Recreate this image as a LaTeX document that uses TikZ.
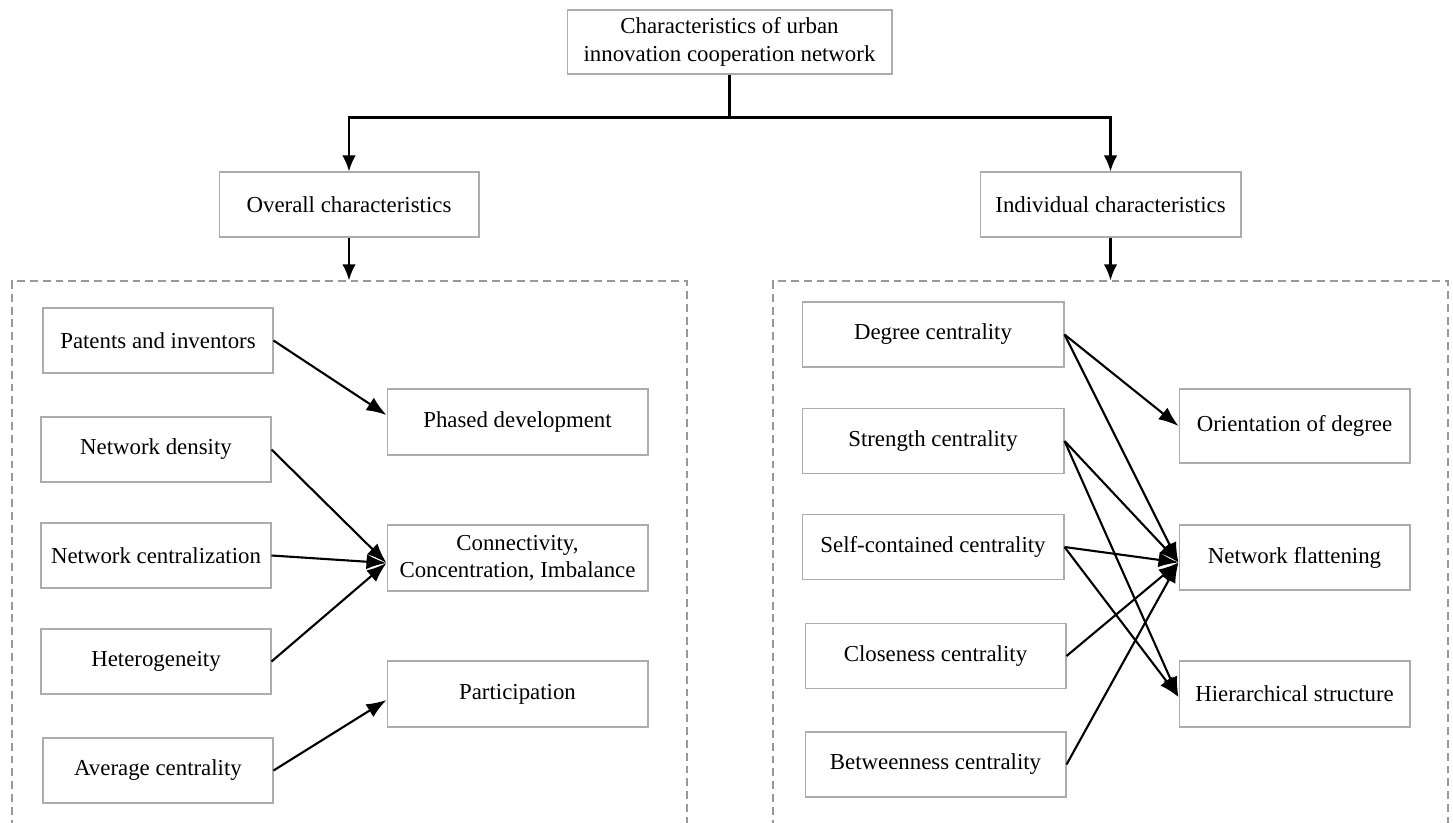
\documentclass[tikz,border=0pt]{standalone}
\usepackage{fontspec}
\setmainfont{Liberation Serif}
\usetikzlibrary{arrows.meta, positioning, calc}

\begin{document}
\begin{tikzpicture}[x=0.02cm, y=-0.02cm, >={Latex[length=4mm,width=3mm]},
    box/.style={draw=gray!65, line width=0.6pt, align=center, inner sep=2pt, font=\fontsize{13}{15.5}\selectfont},
    srcbox/.style={box, minimum width=4.6cm, minimum height=1.3cm},
    tgtbox/.style={box, minimum width=5.22cm, minimum height=1.32cm},
    frame/.style={draw=gray!80, line width=0.8pt, dash pattern=on 4.5pt off 2.8pt, minimum width=13.5cm, minimum height=12cm},
    link/.style={->, line width=1.2pt},
    treelink/.style={-{Latex[length=3.2mm,width=2.7mm]}, line width=1.2pt}]
    \useasboundingbox (0,0) rectangle (1453,822);
    \clip (0,0) rectangle (1453,822);

    % Nodos principales
    \node (top) [box, minimum width=6.5cm, minimum height=1.28cm] at (729.5,42) {Characteristics of urban\\innovation cooperation network};
    \node (overall) [box, minimum width=5.2cm, minimum height=1.3cm] at (349,204.5) {Overall characteristics};
    \node (indiv) [box, minimum width=5.22cm, minimum height=1.3cm] at (1110.5,204.5) {Individual characteristics};

    % Marcos punteados
    \node (leftframe) [frame] at (349.5,581) {};
    \node (rightframe) [frame] at (1110.5,581) {};

    % Arbol superior
    \draw[line width=1.2pt] (top.south) -- ++(0,43) coordinate (split);
    \draw[treelink] (split) -| (overall);
    \draw[treelink] (split) -| (indiv);
    \draw[treelink] (overall) -- (overall |- leftframe.north);
    \draw[treelink] (indiv) -- (indiv |- rightframe.north);

    % Caracteristicas globales
    \node (patents) [srcbox] at (158,340.5) {Patents and inventors};
    \node (density) [srcbox] at (156,449.5) {Network density};
    \node (central) [srcbox] at (156,555.5) {Network centralization};
    \node (hetero) [srcbox] at (156,661.5) {Heterogeneity};
    \node (avgcent) [srcbox] at (158,770.5) {Average centrality};

    \node (phased) [tgtbox] at (517.5,422) {Phased development};
    \node (connect) [tgtbox] at (517.5,558) {Connectivity,\\Concentration, Imbalance};
    \node (particip) [tgtbox] at (517.5,694) {Participation};

    \draw[link] (patents.east) -- ([yshift=0.14cm]phased.west);
    \draw[link] (density.east) -- ([yshift=-0.1cm]connect.west);
    \draw[link] (central.east) -- ([yshift=-0.1cm]connect.west);
    \draw[link] (hetero.east) -- ([yshift=-0.1cm]connect.west);
    \draw[link] (avgcent.east) -- ([yshift=-0.12cm]particip.west);

    % Caracteristicas individuales
    \node (degree) [box, minimum width=5.24cm, minimum height=1.3cm] at (933,334.5) {Degree centrality};
    \node (strength) [box, minimum width=5.24cm, minimum height=1.3cm] at (933,441) {Strength centrality};
    \node (selfcon) [box, minimum width=5.24cm, minimum height=1.3cm] at (933,547) {Self-contained centrality};
    \node (close) [box, minimum width=5.22cm, minimum height=1.3cm] at (935.5,656) {Closeness centrality};
    \node (between) [box, minimum width=5.22cm, minimum height=1.3cm] at (935.5,764.5) {Betweenness centrality};

    \node (orient) [box, minimum width=4.62cm, minimum height=1.48cm] at (1294.5,426) {Orientation of degree};
    \node (flat) [box, minimum width=4.62cm, minimum height=1.3cm] at (1294.5,557.5) {Network flattening};
    \node (hier) [box, minimum width=4.62cm, minimum height=1.32cm] at (1294.5,694) {Hierarchical structure};

    \draw[link] (degree.east) -- (orient.west);
    \draw[link] (degree.east) -- ([yshift=-0.1cm]flat.west);
    \draw[link] (strength.east) -- ([yshift=-0.1cm]flat.west);
    \draw[link] (strength.east) -- ([yshift=-0.06cm]hier.west);
    \draw[link] (selfcon.east) -- ([yshift=-0.1cm]flat.west);
    \draw[link] (selfcon.east) -- ([yshift=-0.06cm]hier.west);
    \draw[link] (close.east) -- ([yshift=-0.1cm]flat.west);
    \draw[link] (between.east) -- ([yshift=-0.1cm]flat.west);
\end{tikzpicture}
\end{document}
